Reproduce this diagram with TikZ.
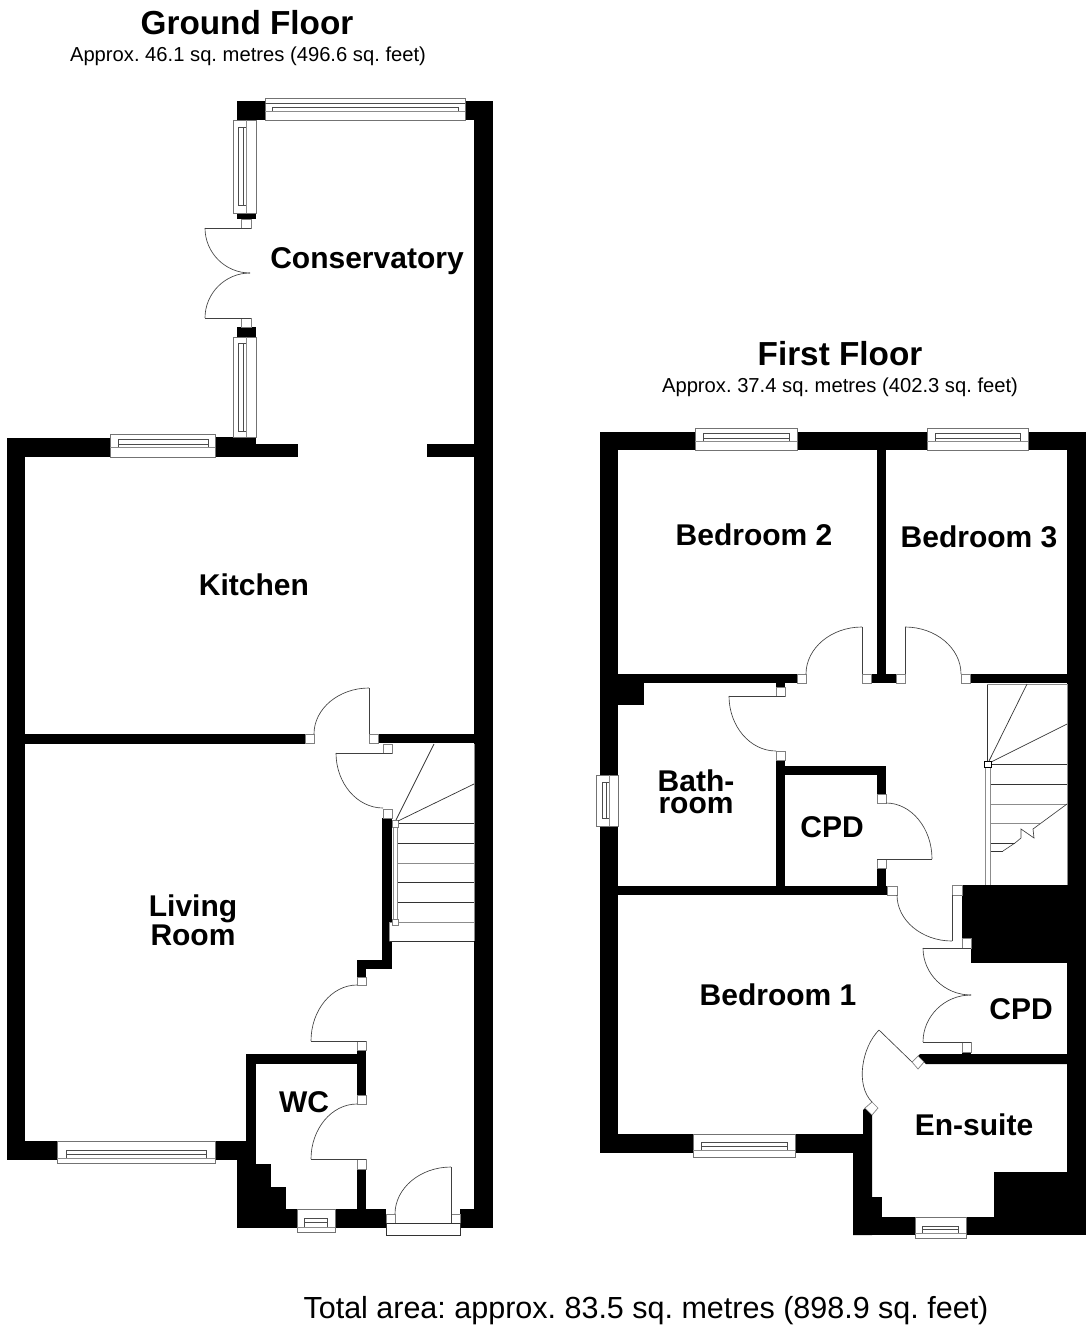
\documentclass[tikz,border=0pt]{standalone}
\usepackage{fontspec}
\setmainfont{Liberation Sans}
\frenchspacing
\newcommand{\W}[4]{\fill[black] (#1,#2) rectangle (#3,#4);}
\newcommand{\J}[4]{\draw[jambline] (#1,#2) rectangle (#3,#4);}
\newcommand{\qv}[4]{\draw[leaf] (#1,#2) .. controls (#1,{#2+.55*(#4-#2)}) and ({#3-.55*(#3-#1)},#4) .. (#3,#4);}
% horizontal window: frame x1 y1 x2 y2, rails from rx1 to rx2 at r1 and r2, full-width sill line at r3
\newcommand{\WH}[9]{\draw[frame] (#1,#2) rectangle (#3,#4);
  \draw[inner] (#5,#7) -- (#6,#7) (#5,#8) -- (#6,#8) (#5,#7) -- (#5,#9) (#6,#7) -- (#6,#9);
  \draw[sill] (#1,#9) -- (#3,#9);}
% vertical window: frame x1 y1 x2 y2, rails from ry1 to ry2 at r1 and r2, full-height line at r3
\newcommand{\WV}[9]{\draw[frame] (#1,#2) rectangle (#3,#4);
  \draw[inner] (#7,#5) -- (#7,#6) (#8,#5) -- (#8,#6) (#7,#5) -- (#9,#5) (#7,#6) -- (#9,#6);
  \draw[sill] (#9,#2) -- (#9,#4);}
\tikzset{
 jambline/.style={draw=black!50,fill=white,line width=.7pt},
 leaf/.style={draw=black!75,line width=.65pt},
 frame/.style={draw=black!55,fill=white,line width=.8pt},
 inner/.style={draw=black!70,line width=.7pt},
 sill/.style={draw=black!45,line width=1pt},
 tread/.style={draw=black!80,line width=.7pt},
 treadl/.style={draw=black!45,line width=.9pt},
 room/.style={font=\fontsize{30}{29}\selectfont\bfseries,align=center,inner sep=0pt,text=black},
 floorname/.style={font=\fontsize{33.3}{33}\selectfont\bfseries,inner sep=0pt},
 approx/.style={font=\fontsize{20.2}{20}\selectfont,inner sep=0pt},
}
\begin{document}
\begin{tikzpicture}[x=1pt,y=-1pt]
\useasboundingbox (0,0) rectangle (1088,1338);
\fill[white] (0,0) rectangle (1088,1338);
% ---------- GROUND FLOOR: walls
\W{474}{101}{493}{1228}
\W{465}{101}{493}{120}
\W{237}{101}{265}{120}
\W{237}{213}{256}{219}
\W{237}{327}{256}{337}
\W{215}{437}{256}{457}
\W{256}{444}{298}{457}
\W{427}{444}{474}{457}
\W{7}{438}{110}{457}
\W{7}{438}{25}{1160}
\W{25}{734}{305}{744}
\W{378}{734}{474}{743}
\W{382}{818}{392}{969}
\W{357}{960}{392}{969}
\W{357}{969}{366}{977}
\W{246}{1054}{366}{1064}
\W{357}{1050}{366}{1095}
\W{357}{1169}{366}{1209}
\W{246}{1054}{256}{1160}
\W{7}{1141}{57}{1160}
\W{215}{1141}{256}{1160}
\W{237}{1160}{256}{1228}
\W{256}{1164}{271}{1187}
\W{256}{1187}{286}{1209}
\W{237}{1209}{297}{1228}
\W{335}{1209}{386}{1228}
\W{460}{1209}{493}{1228}
\fill[white] (389,922) rectangle (392,941);
% windows
\WH{265}{98}{465}{120}{272}{458}{107}{103}{111}
\draw[inner] (265,103) -- (465,103);
\WV{233}{120}{256}{213}{127}{205}{238}{243}{246}
\WV{233}{337}{256}{437}{343}{431}{238}{243}{246}
\WH{110}{434}{215}{457}{118}{208}{439}{444}{447}
\WH{57}{1141}{215}{1163}{66}{206}{1150}{1154}{1158}
\WH{297}{1209}{335}{1232}{304}{327}{1218}{1222}{1227}
% doors
\J{241}{219}{251}{228}
\J{241}{318}{251}{327}
\draw[leaf] (251,228) -- (205,228);
\qv{205}{228}{250}{273}
\qv{205}{318}{250}{273}
\draw[leaf] (251,318) -- (205,318);
\J{305}{734}{314}{743}
\J{369}{734}{378}{743}
\draw[leaf] (369,734) -- (369,688);
\qv{314}{734}{369}{688}
\J{383}{744}{392}{753}
\J{383}{809}{392}{818}
\draw[leaf] (392,753) -- (336,753);
\qv{336}{753}{383}{808}
\J{357}{977}{366}{985}
\J{357}{1041}{366}{1050}
\draw[leaf] (366,1041) -- (311,1041);
\qv{311}{1041}{357}{985}
\J{357}{1095}{366}{1104}
\J{357}{1159}{366}{1169}
\draw[leaf] (366,1159) -- (311,1159);
\qv{311}{1159}{357}{1104}
\J{386}{1214}{395}{1223}
\J{451}{1214}{460}{1223}
\draw[leaf] (451,1223) -- (451,1167);
\qv{395}{1214}{451}{1167}
\draw[frame,draw=black!80] (386,1223) rectangle (460,1235);
% stairs
\foreach \y in {823,843,882,902}{\draw[tread] (398,\y) -- (474,\y);}
\foreach \y in {863,922}{\draw[treadl] (398,\y) -- (474,\y);}
\draw[tread] (389,941) -- (474,941);
\draw[treadl] (389,922) -- (389,941);
\draw[treadl] (389,922) -- (398,922);
\draw[treadl] (393,827) -- (393,919);
\draw[treadl] (397,827) -- (397,919);
\draw[treadl] (474,744) -- (474,941);
\J{392}{820}{398}{827}
\J{392}{919}{398}{925}
\draw[tread] (396,820) -- (434,744);
\draw[tread] (398,821) -- (474,784);
% ---------- FIRST FLOOR: walls
\W{600}{432}{618}{1153}
\W{600}{432}{1086}{450}
\W{1067}{432}{1086}{1235}
\W{877}{450}{886}{674}
\W{618}{674}{797}{683}
\W{618}{683}{644}{705}
\W{871}{674}{896}{683}
\W{970}{674}{1067}{683}
\W{776}{683}{785}{687}
\W{776}{760}{785}{895}
\W{785}{766}{886}{775}
\W{877}{775}{886}{794}
\W{877}{868}{886}{895}
\W{618}{886}{887}{895}
\W{962}{885}{1067}{938}
\W{971}{938}{1067}{963}
\W{962}{1052}{971}{1054}
\fill[black] (918,1056) -- (920,1054) -- (1067,1054) -- (1067,1064) -- (926,1064) -- (924,1062) -- cycle;
\W{600}{1134}{693}{1153}
\W{795}{1134}{863}{1153}
\fill[black] (863,1110) -- (865,1108) -- (872,1115) -- (872,1235) -- (853,1235) -- (853,1153) -- (863,1153) -- cycle;
\W{872}{1197}{882}{1217}
\W{853}{1217}{915}{1235}
\W{966}{1217}{1086}{1235}
\W{994}{1172}{1067}{1217}
% windows
\WH{695}{428}{797}{450}{703}{789}{433}{438}{441}
\WH{927}{428}{1028}{450}{935}{1020}{433}{438}{441}
\WV{596}{775}{618}{826}{782}{818}{602}{606}{609}
\WH{693}{1134}{795}{1157}{701}{787}{1142}{1146}{1150}
\WH{915}{1217}{966}{1238}{922}{958}{1226}{1229}{1233}
% doors
\J{797}{674}{806}{683}
\J{862}{674}{871}{683}
\draw[leaf] (862,674) -- (862,627);
\qv{806}{674}{862}{627}
\J{896}{674}{905}{683}
\J{961}{674}{970}{683}
\draw[leaf] (905,674) -- (905,627);
\qv{961}{674}{905}{627}
\J{776}{687}{785}{696}
\J{776}{751}{785}{760}
\draw[leaf] (785,696) -- (729,696);
\qv{729}{696}{776}{751}
\J{877}{794}{886}{803}
\J{877}{859}{886}{868}
\draw[leaf] (877,859) -- (932,859);
\qv{932}{859}{886}{803}
\J{887}{886}{897}{895}
\J{952}{885}{962}{895}
\draw[leaf] (952,895) -- (952,941);
\qv{897}{895}{952}{941}
\J{962}{938}{971}{948}
\J{962}{1042}{971}{1052}
\draw[leaf] (971,948) -- (923,948);
\qv{923}{948}{971}{995}
\draw[leaf] (971,1042) -- (923,1042);
\qv{923}{1042}{971}{995}
\draw[jambline] (918,1056) -- (924,1062) -- (918,1069) -- (912,1062) -- cycle;
\draw[jambline] (872,1102) -- (878,1108) -- (872,1115) -- (865,1108) -- cycle;
\draw[leaf] (912,1062) -- (879,1030);
\draw[leaf] (879,1030) .. controls (862,1047) and (855,1085) .. (872,1102);
% stairs
\draw[tread] (987,684) -- (987,761);
\draw[treadl] (987,684) -- (1067,684);
\draw[treadl] (1067,684) -- (1067,885);
\draw[tread] (989,761) -- (1027,684);
\draw[tread] (991,762) -- (1067,724);
\foreach \y in {764,784}{\draw[tread] (990,\y) -- (1067,\y);}
\draw[treadl] (990,804) -- (1067,804);
\draw[treadl] (990,823) -- (1040,823);
\draw[tread] (990,843) -- (1015,843);
\draw[tread] (990,851) -- (1003,851);
\draw[leaf] (1067,804) -- (1033,829) -- (1034,838) -- (1021,829) -- (1021,838) -- (1015,843) -- (1003,851);
\draw[treadl] (985,767) -- (985,885);
\draw[treadl] (990,767) -- (990,885);
\draw[draw=black,fill=white,line width=.7pt] (984,761) rectangle (991,767);
% ---------- TEXT
\node[floorname] (gf) at (247,23) {Ground Floor};
\node[approx] (gfa) at (248,56) {Approx. 46.1 sq. metres (496.6 sq. feet)};
\node[floorname] (ff) at (840,354) {First Floor};
\node[approx] (ffa) at (840,387) {Approx. 37.4 sq. metres (402.3 sq. feet)};
\node[room] (cons) at (367,261) {Conservatory};
\node[room] (kit) at (254,585) {Kitchen};
\node[room] (liv) at (193,920) {Living\\Room};
\node[room] (wc) at (304,1102) {WC};
\node[room] (b2) at (754,535) {Bedroom 2};
\node[room] (b3) at (979,537) {Bedroom 3};
\node[room,font=\fontsize{30}{22}\selectfont\bfseries] (bath) at (696,792) {Bath-\\room};
\node[room] (cpda) at (832,827) {CPD};
\node[room] (b1) at (778,995) {Bedroom 1};
\node[room] (cpdb) at (1021,1009) {CPD};
\node[room] (ens) at (974,1125) {En-suite};
\node[inner sep=0pt,font=\fontsize{30.5}{30}\selectfont] (tot) at (646,1311) {Total area: approx. 83.5 sq. metres (898.9 sq. feet)};
\end{tikzpicture}
\end{document}
